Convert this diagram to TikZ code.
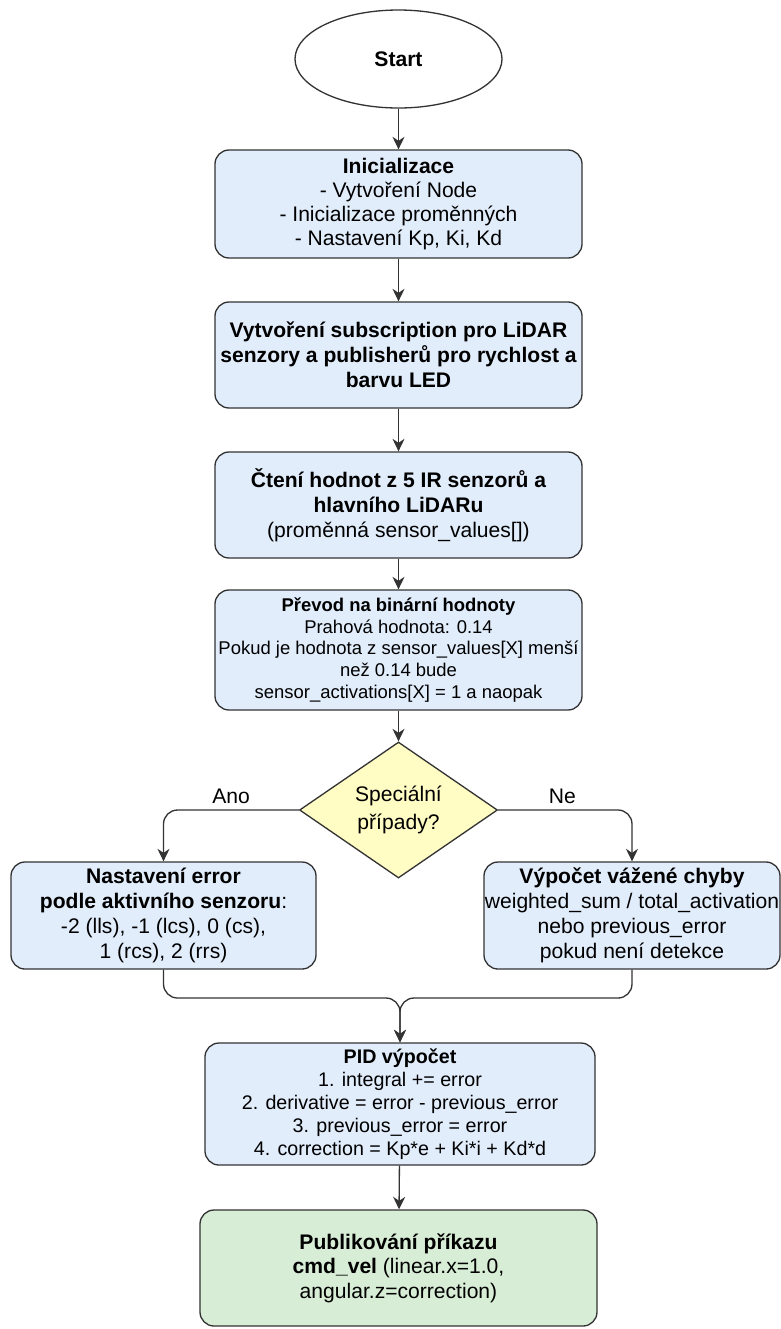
\documentclass[tikz,border=0pt]{standalone}
\usepackage{fontspec}
\setmainfont{Liberation Sans}
\usetikzlibrary{arrows.meta, positioning, calc, shapes.geometric}
\definecolor{boxblue}{HTML}{E2EDFC}
\definecolor{boxgreen}{HTML}{D8EDD6}
\definecolor{decyellow}{HTML}{FFFCC4}
\definecolor{edgegray}{HTML}{333333}
\tikzset{
    flowstart/.style={ellipse, draw=edgegray, fill=white, line width=0.75pt, minimum width=41.4mm, minimum height=19.6mm, inner sep=0pt, font=\fontsize{12}{14}\selectfont\bfseries},
    flowbox/.style={rectangle, rounded corners=2.8mm, draw=edgegray, fill=boxblue, line width=0.75pt, minimum width=73.4mm, inner sep=0pt, align=center},
    flowend/.style={flowbox, fill=boxgreen},
    flowdecision/.style={diamond, aspect=1.46, draw=edgegray, fill=decyellow, line width=0.75pt, minimum width=39.6mm, minimum height=27.2mm, inner sep=0pt, align=center, font=\fontsize{12}{16}\selectfont},
    flowarrow/.style={-{Stealth[length=2.5mm,width=2.4mm,inset=0.8mm]}, line width=0.75pt, draw=edgegray}
}

\begin{document}
\begin{tikzpicture}[x=0.2mm, y=-0.2mm, font=\fontsize{12}{14}\selectfont]
    \useasboundingbox (0,0) rectangle (780,1329);

    % Main column
    \node[flowstart] (start) at (398.5,59) {Start};
    \node[flowbox, minimum height=21.6mm, font=\fontsize{12}{13.6}\selectfont] (init) at (398.5,204)
        {\textbf{Inicializace}\\- Vytvoření Node\\- Inicializace proměnných\\- Nastavení Kp, Ki, Kd};
    \node[flowbox, minimum height=21.2mm, font=\fontsize{12}{14.2}\selectfont\bfseries] (subs) at (398.5,355)
        {Vytvoření subscription pro LiDAR\\senzory a publisherů pro rychlost a\\barvu LED};
    \node[flowbox, minimum height=21.2mm, font=\fontsize{12}{14.2}\selectfont] (read) at (398.5,505)
        {\textbf{Čtení hodnot z 5 IR senzorů a}\\\textbf{hlavního LiDARu}\\(proměnná sensor\_values[])};
    \node[flowbox, minimum height=24mm, font=\fontsize{10.5}{12.4}\selectfont] (binar) at (398.5,650)
        {\textbf{Převod na binární hodnoty}\\Prahová hodnota: 0.14\\Pokud je hodnota z sensor\_values[X] menší\\než 0.14 bude\\sensor\_activations[X] = 1 a naopak};
    \node[flowdecision] (dec) at (398.5,810) {Speciální\\případy?};

    % Branches
    \node[flowbox, minimum width=61mm, minimum height=21.4mm, font=\fontsize{12}{14.3}\selectfont] (special) at (163.5,915.5)
        {\textbf{Nastavení error}\\\textbf{podle aktivního senzoru}:\\-2 (lls), -1 (lcs), 0 (cs),\\1 (rcs), 2 (rrs)};
    \node[flowbox, minimum width=59.2mm, minimum height=21.4mm, font=\fontsize{12}{14.3}\selectfont] (weighted) at (632,915.5)
        {\textbf{Výpočet vážené chyby}\\weighted\_sum / total\_activation\\nebo previous\_error\\pokud není detekce};

    % PID and output
    \coordinate (join) at (400,998);
    \node[flowbox, minimum width=78mm, minimum height=24.4mm, font=\fontsize{11.2}{13.1}\selectfont] (pid) at (400,1104)
        {\textbf{PID výpočet}\\1. integral += error\\2. derivative = error - previous\_error\\3. previous\_error = error\\4. correction = Kp*e + Ki*i + Kd*d};
    \node[flowend, minimum width=79.4mm, minimum height=23.2mm, font=\fontsize{12}{14}\selectfont] (publish) at (398.5,1268)
        {\textbf{Publikování příkazu}\\\textbf{cmd\_vel} (linear.x=1.0,\\angular.z=correction)};

    % Arrows
    \draw[flowarrow] (start) -- (init);
    \draw[flowarrow] (init) -- (subs);
    \draw[flowarrow] (subs) -- (read);
    \draw[flowarrow] (read) -- (binar);
    \draw[flowarrow] (binar) -- (dec);
    \draw[flowarrow, rounded corners=2.8mm] (dec.west) -| node[pos=0.25, above] {Ano} (special.north);
    \draw[flowarrow, rounded corners=2.8mm] (dec.east) -| node[pos=0.24, above] {Ne} (weighted.north);
    \draw[flowarrow, rounded corners=2.8mm] (special.south) |- (join) -- (pid.north);
    \draw[flowarrow, rounded corners=2.8mm] (weighted.south) |- (join) -- (pid.north);
    \draw[flowarrow] (pid) -- (publish);
\end{tikzpicture}
\end{document}
